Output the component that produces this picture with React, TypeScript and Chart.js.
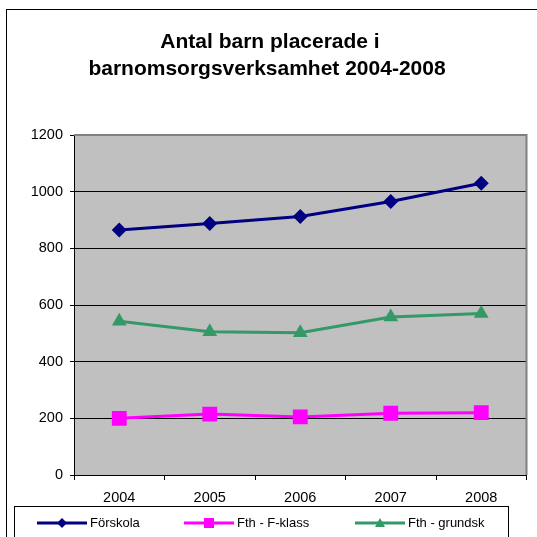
import React, { useEffect, useRef } from "react";
import { Chart, registerables } from "chart.js";

Chart.register(...registerables);

const categories = ["2004", "2005", "2006", "2007", "2008"];
const forskola = [865, 888, 912, 965, 1030];
const fklass = [200, 215, 205, 218, 220];
const grundsk = [543, 506, 502, 558, 570];
const seriesLabels = ["Förskola", "Fth - F-klass", "Fth - grundsk"];
const titleLines = ["Antal barn placerade i", "barnomsorgsverksamhet 2004-2008"];
const yMin = 0;
const yMax = 1200;
const yStep = 200;

const FONT = "'Liberation Sans', Arial, sans-serif";
const legendStarts = [37, 184, 355];

const framePlugin = {
  id: "frame",
  beforeDraw(chart: any) {
    const { ctx, chartArea: a } = chart;
    ctx.save();
    ctx.fillStyle = "#ffffff";
    ctx.fillRect(0, 0, chart.width, chart.height);
    ctx.strokeStyle = "#000000";
    ctx.lineWidth = 1;
    ctx.strokeRect(6.5, 9.5, 600, 600);
    ctx.fillStyle = "#C0C0C0";
    ctx.fillRect(a.left, a.top, a.right - a.left, a.bottom - a.top);
    ctx.restore();
  },
  beforeDatasetsDraw(chart: any) {
    const { ctx, chartArea: a } = chart;
    ctx.save();
    ctx.strokeStyle = "#808080";
    ctx.lineWidth = 2;
    ctx.beginPath();
    ctx.moveTo(a.left, a.top);
    ctx.lineTo(a.right, a.top);
    ctx.lineTo(a.right, a.bottom);
    ctx.stroke();
    ctx.restore();
  },
  afterDraw(chart: any) {
    const { ctx } = chart;
    ctx.save();
    ctx.fillStyle = "#000000";
    ctx.font = `bold 21px ${FONT}`;
    ctx.textAlign = "center";
    ctx.textBaseline = "middle";
    ctx.fillText(titleLines[0], 270, 42);
    ctx.fillText(titleLines[1], 267, 69);
    ctx.fillStyle = "#ffffff";
    ctx.fillRect(14, 506, 494, 40);
    ctx.strokeStyle = "#000000";
    ctx.lineWidth = 1;
    ctx.strokeRect(14.5, 506.5, 494, 40);
    const ly = 523;
    chart.data.datasets.forEach((ds: any, i: number) => {
      const x0 = legendStarts[i];
      ctx.strokeStyle = ds.borderColor;
      ctx.lineWidth = 3;
      ctx.beginPath();
      ctx.moveTo(x0, ly);
      ctx.lineTo(x0 + 50, ly);
      ctx.stroke();
      ctx.fillStyle = ds.pointBackgroundColor;
      const cx = x0 + 25;
      ctx.beginPath();
      if (ds.pointStyle === "rectRot") {
        const r = 5;
        ctx.moveTo(cx, ly - r);
        ctx.lineTo(cx + r, ly);
        ctx.lineTo(cx, ly + r);
        ctx.lineTo(cx - r, ly);
      } else if (ds.pointStyle === "rect") {
        ctx.rect(cx - 5, ly - 5, 10, 10);
      } else {
        ctx.moveTo(cx, ly - 5);
        ctx.lineTo(cx + 5, ly + 4);
        ctx.lineTo(cx - 5, ly + 4);
      }
      ctx.closePath();
      ctx.fill();
      ctx.fillStyle = "#000000";
      ctx.font = `13px ${FONT}`;
      ctx.textAlign = "left";
      ctx.textBaseline = "middle";
      ctx.fillText(ds.label, x0 + 53, ly);
    });
    ctx.restore();
  },
};

export default function App() {
  const ref = useRef<HTMLCanvasElement>(null);
  useEffect(() => {
    if (!ref.current) return;
    const chart = new Chart(ref.current, {
      type: "line",
      data: {
        labels: categories,
        datasets: [
          {
            label: seriesLabels[0],
            data: forskola,
            borderColor: "#000080",
            backgroundColor: "#000080",
            pointBackgroundColor: "#000080",
            pointBorderColor: "#000080",
            pointStyle: "rectRot",
            pointRadius: 7.5,
            borderWidth: 3,
            pointBorderWidth: 0,
            tension: 0,
          },
          {
            label: seriesLabels[1],
            data: fklass,
            borderColor: "#FF00FF",
            backgroundColor: "#FF00FF",
            pointBackgroundColor: "#FF00FF",
            pointBorderColor: "#FF00FF",
            pointStyle: "rect",
            pointRadius: 10.5,
            borderWidth: 3,
            pointBorderWidth: 0,
            tension: 0,
          },
          {
            label: seriesLabels[2],
            data: grundsk,
            borderColor: "#339966",
            backgroundColor: "#339966",
            pointBackgroundColor: "#339966",
            pointBorderColor: "#339966",
            pointStyle: "triangle",
            pointRadius: 8.5,
            borderWidth: 3,
            pointBorderWidth: 0,
            tension: 0,
          },
        ],
      } as any,
      options: {
        responsive: false,
        animation: false,
        layout: { padding: { top: 135, left: 0, right: 7, bottom: 32 } },
        plugins: {
          legend: { display: false },
          title: { display: false },
          tooltip: { enabled: false },
        },
        scales: {
          x: {
            offset: true,
            grid: {
              offset: true,
              drawOnChartArea: false,
              drawTicks: true,
              tickLength: 5,
              color: "#000000",
            },
            border: { display: true, color: "#000000", width: 1 },
            ticks: {
              color: "#000000",
              font: { family: FONT, size: 14.5 },
              padding: 9,
              maxRotation: 0,
            },
            afterFit(scale: any) {
              scale.height = 30;
            },
          },
          y: {
            min: yMin,
            max: yMax,
            grid: {
              color: (c: any) => (c.tick && c.tick.value === yMax ? "rgba(0,0,0,0)" : "#000000"),
              tickColor: "#000000",
              tickLength: 4,
              lineWidth: 1,
            },
            border: { display: true, color: "#000000", width: 1 },
            ticks: {
              stepSize: yStep,
              color: "#000000",
              font: { family: FONT, size: 14.5 },
              padding: 7,
              callback: (v: any) => String(v),
            },
            afterFit(scale: any) {
              scale.width = 74;
            },
          },
        },
      } as any,
      plugins: [framePlugin],
    });
    return () => chart.destroy();
  }, []);
  return (
    <div style={{ position: "fixed", left: 0, top: 0, width: 537, height: 537 }}>
      <canvas ref={ref} width={537} height={537} />
    </div>
  );
}
